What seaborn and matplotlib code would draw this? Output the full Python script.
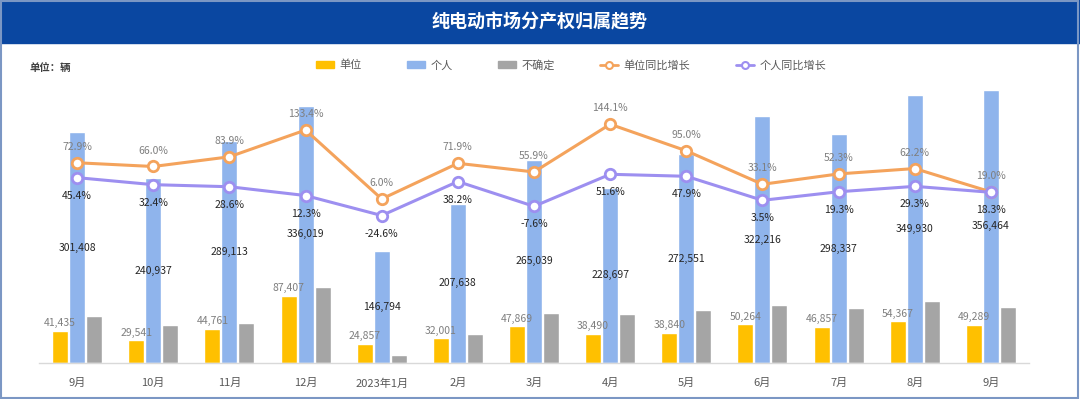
import matplotlib.pyplot as plt
import matplotlib.patches as mpatches
from matplotlib.lines import Line2D
import numpy as np
import pandas as pd
import seaborn as sns

months = ['9月', '10月', '11月', '12月', '2023年1月', '2月', '3月',
          '4月', '5月', '6月', '7月', '8月', '9月']
unit = [41435, 29541, 44761, 87407, 24857, 32001, 47869, 38490, 38840,
        50264, 46857, 54367, 49289]
personal = [301408, 240937, 289113, 336019, 146794, 207638, 265039, 228697,
            272551, 322216, 298337, 349930, 356464]
# 不确定 没有数据标签, 按柱高估计
uncertain = [61500, 49500, 51700, 98600, 10500, 38200, 65000, 64000, 69500,
             76000, 71700, 81300, 73000]
unit_yoy = [72.9, 66.0, 83.9, 133.4, 6.0, 71.9, 55.9, 144.1, 95.0, 33.1,
            52.3, 62.2, 19.0]
personal_yoy = [45.4, 32.4, 28.6, 12.3, -24.6, 38.2, -7.6, 51.6, 47.9, 3.5,
                19.3, 29.3, 18.3]

series_names = ['单位', '个人', '不确定']
bar_colors = ['#ffc000', '#8fb4ec', '#a5a5a5']
c_unit_line = '#f4a35c'
c_pers_line = '#9d8ff0'

sns.set_theme(style='white')
plt.rcParams['font.family'] = ['Noto Sans CJK SC', 'DejaVu Sans']
plt.rcParams['axes.unicode_minus'] = False

pos = np.arange(len(months))
df = pd.DataFrame({
    'pos': np.tile(pos, 3),
    'value': unit + personal + uncertain,
    'series': np.repeat(series_names, len(months)),
})

fig = plt.figure(figsize=(10.8, 3.99), dpi=100)
ax = fig.add_axes([39 / 1080, 36 / 399, 990 / 1080, 306.5 / 399])

sns.barplot(data=df, x='pos', y='value', hue='series', hue_order=series_names,
            palette=bar_colors, width=0.67, gap=0.06, ax=ax, legend=False,
            saturation=1, errorbar=None)
ax.set_xlim(-0.5, len(months) - 0.5)
ax.set_ylim(0, 400000)
ax.set_xticks(pos)
ax.set_xticklabels(months, fontsize=8, color='#595959')
ax.tick_params(axis='x', length=0, pad=11)
ax.set_yticks([])
ax.set_xlabel('')
ax.set_ylabel('')
for s in ['left', 'right', 'top']:
    ax.spines[s].set_visible(False)
ax.spines['bottom'].set_color('#d9d9d9')
ax.spines['bottom'].set_linewidth(1)

ax.bar_label(ax.containers[0], labels=[f'{v:,}' for v in unit], padding=2,
             fontsize=7.5, color='#7f7f7f')
ax.bar_label(ax.containers[1], labels=[f'{v:,}' for v in personal],
             label_type='center', fontsize=7.5, color='#262626')

ax2 = ax.twinx()
sns.lineplot(x=pos, y=unit_yoy, ax=ax2, color=c_unit_line, lw=2.2,
             marker='o', ms=7.5, mfc='white', mec=c_unit_line, mew=2)
sns.lineplot(x=pos, y=personal_yoy, ax=ax2, color=c_pers_line, lw=2.2,
             marker='o', ms=7.5, mfc='white', mec=c_pers_line, mew=2)
ax2.set_ylim(-297.2, 269.3)
ax2.set_yticks([])
ax2.axis('off')

for x, v in zip(pos, unit_yoy):
    ax2.annotate(f'{v:.1f}%', (x, v), xytext=(0, 11.5), textcoords='offset points',
                 ha='center', va='center', fontsize=7.5, color='#7f7f7f')
for x, v in zip(pos, personal_yoy):
    ax2.annotate(f'{v:.1f}%', (x, v), xytext=(0, -13), textcoords='offset points',
                 ha='center', va='center', fontsize=7.5, color='#262626')

# 标题栏和外框
fig.patches.append(mpatches.Rectangle((0, 1 - 43 / 399), 1, 43 / 399,
                                      transform=fig.transFigure,
                                      color='#0a47a1', zorder=0))
fig.patches.append(mpatches.Rectangle((0.001, 0.003), 0.997, 0.994,
                                      transform=fig.transFigure, fill=False,
                                      edgecolor='#7b97c4', lw=1.5, zorder=1))
fig.text(0.5, 1 - 22 / 399, '纯电动市场分产权归属趋势', ha='center', va='center',
         fontsize=13, fontweight='bold', color='white')
fig.text(30 / 1080, 1 - 68 / 399, '单位：辆', ha='left', va='center',
         fontsize=7.5, fontweight='bold', color='#404040')

handles = [mpatches.Patch(color=c, label=n) for c, n in zip(bar_colors, series_names)]
handles += [
    Line2D([], [], color=c_unit_line, lw=2, marker='o', ms=5, mfc='white',
           mec=c_unit_line, mew=1.5, label='单位同比增长'),
    Line2D([], [], color=c_pers_line, lw=2, marker='o', ms=5, mfc='white',
           mec=c_pers_line, mew=1.5, label='个人同比增长'),
]
fig.legend(handles=handles, loc='center', bbox_to_anchor=(571 / 1080, 1 - 65 / 399),
           ncol=5, frameon=False, fontsize=8, handlelength=1.6, handleheight=0.5,
           handletextpad=0.5, columnspacing=4.1, labelcolor='#595959')

fig.savefig('out.png', dpi=100)
